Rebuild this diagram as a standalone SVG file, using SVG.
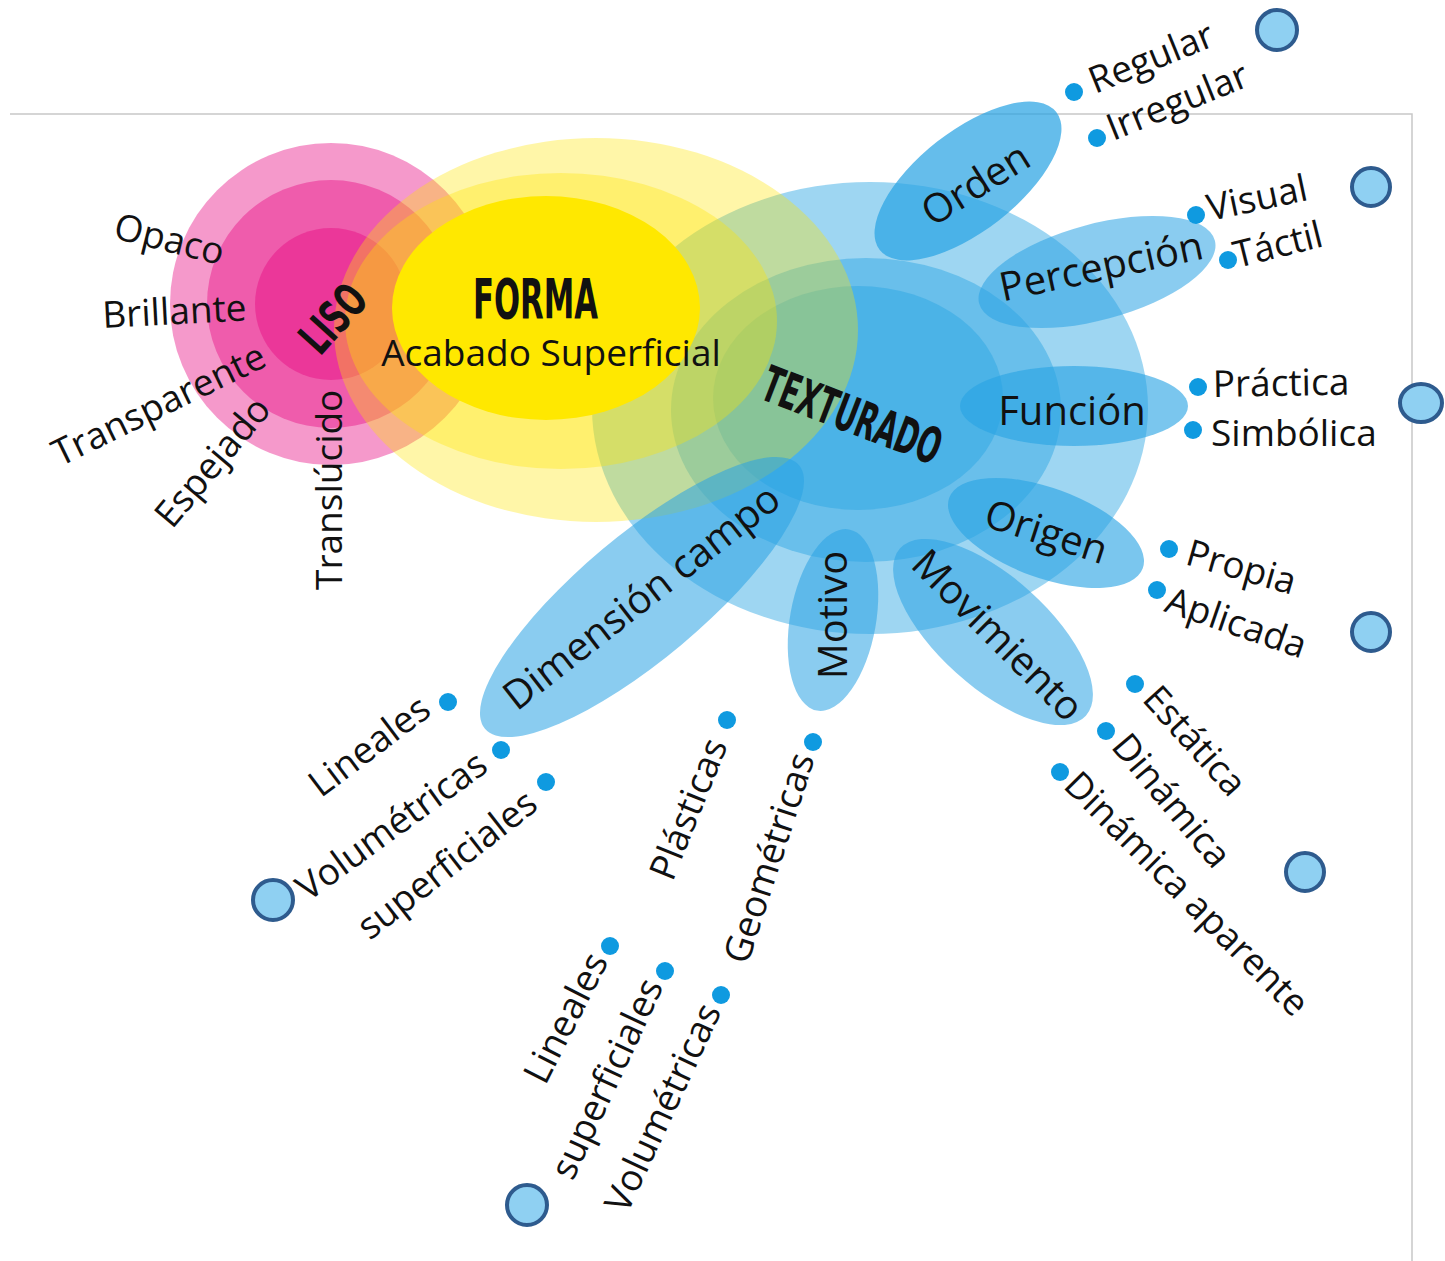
<svg xmlns="http://www.w3.org/2000/svg" width="1445" height="1261" viewBox="0 0 1445 1261">
<style>
.t{font-family:"Open Sans","Noto Sans",sans-serif;fill:#111}
.leaf{font-size:37px}
.cat{font-size:40px;text-anchor:middle}
.end{text-anchor:end}
.hand{font-family:"DejaVu Sans Condensed","DejaVu Sans",sans-serif;font-weight:bold;fill:#111}
.dot{fill:#0f9ae0}
.ring{fill:#8fd0f2;stroke:#2e5b8e;stroke-width:4}
.pk{fill:#e6007e;fill-opacity:.4}
.ye{fill:#ffe600;fill-opacity:.34}
.bl{fill:#29a3e3;fill-opacity:.45}
.pet{fill:#29a3e3;fill-opacity:.55}
.frame{fill:none;stroke:#c8c8c8;stroke-width:1.5}
</style>
<rect width="1445" height="1261" fill="#fff"/>
<path class="frame" d="M10 114H1412V1261"/>

<g id="liso">
<circle class="pk" cx="331" cy="304" r="161"/>
<circle class="pk" cx="331" cy="304" r="124"/>
<circle class="pk" cx="331" cy="304" r="76"/>
</g>
<g id="texturado">
<ellipse class="bl" cx="870" cy="408" rx="278" ry="226"/>
<ellipse class="bl" cx="866" cy="410" rx="195" ry="152"/>
<ellipse class="bl" cx="858" cy="398" rx="145" ry="112"/>
</g>
<g id="forma">
<ellipse class="ye" cx="596" cy="330" rx="262" ry="192"/>
<ellipse class="ye" cx="561" cy="321" rx="216" ry="148"/>
<ellipse fill="#ffe800" cx="546" cy="308" rx="154" ry="112"/>
</g>

<g id="petals">
<ellipse id="p-orden" class="pet" style="fill-opacity:.72" cx="968" cy="181" rx="112" ry="50" transform="rotate(-38 968 181)"/>
<ellipse id="p-percepcion" class="pet" cx="1097" cy="272" rx="122" ry="48" transform="rotate(-15 1097 272)"/>
<ellipse id="p-funcion" class="pet" style="fill-opacity:.62" cx="1074" cy="406" rx="114" ry="40"/>
<ellipse id="p-origen" class="pet" style="fill-opacity:.62" cx="1046" cy="533" rx="103" ry="45" transform="rotate(20 1046 533)"/>
<ellipse id="p-movimiento" class="pet" cx="993" cy="632" rx="125" ry="55" transform="rotate(42 993 632)"/>
<ellipse id="p-motivo" class="pet" cx="833" cy="620" rx="43" ry="92" transform="rotate(10 833 620)"/>
<ellipse id="p-dimension" class="pet" cx="642" cy="597" rx="205" ry="62" transform="rotate(-40 642 597)"/>
</g>

<g id="titles">
<text class="hand" font-size="46" textLength="75" lengthAdjust="spacingAndGlyphs" transform="translate(320 357) rotate(-48)">LISO</text>
<text class="hand" font-size="56" x="473" y="318" textLength="125" lengthAdjust="spacingAndGlyphs">FORMA</text>
<text class="t leaf" x="551" y="366" text-anchor="middle">Acabado Superficial</text>
<text class="hand" font-size="50" textLength="188" lengthAdjust="spacingAndGlyphs" transform="translate(758 398) rotate(21)">TEXTURADO</text>
</g>

<g id="liso-labels" class="t leaf">
<text transform="translate(112 238) rotate(14)">Opaco</text>
<text transform="translate(103 328) rotate(-3)">Brillante</text>
<text transform="translate(60 467) rotate(-26)">Transparente</text>
<text transform="translate(172 530) rotate(-50)">Espejado</text>
<text transform="translate(342 590) rotate(-90)">Translúcido</text>
</g>

<g id="categories" class="t cat">
<text transform="translate(983 196) rotate(-32)">Orden</text>
<text transform="translate(1104 280) rotate(-12)">Percepción</text>
<text x="1072" y="425">Función</text>
<text transform="translate(1042 545) rotate(18)">Origen</text>
<text transform="translate(988 645) rotate(45)">Movimiento</text>
<text transform="translate(847 615) rotate(-90)">Motivo</text>
<text transform="translate(650 608) rotate(-38)">Dimensión campo</text>
</g>

<g id="leaves">
<g id="orden-leaves">
<circle class="dot" cx="1074" cy="92" r="9"/>
<circle class="dot" cx="1097" cy="138" r="9"/>
<text class="t leaf" transform="translate(1095 94) rotate(-22)">Regular</text>
<text class="t leaf" transform="translate(1113 141) rotate(-22)">Irregular</text>
</g>
<g id="percepcion-leaves">
<circle class="dot" cx="1196" cy="215" r="9"/>
<circle class="dot" cx="1228" cy="260" r="9"/>
<text class="t leaf" transform="translate(1210 221) rotate(-12)">Visual</text>
<text class="t leaf" transform="translate(1237 268) rotate(-14)">Táctil</text>
</g>
<g id="funcion-leaves">
<circle class="dot" cx="1198" cy="387" r="9"/>
<circle class="dot" cx="1193" cy="430" r="9"/>
<text class="t leaf" transform="translate(1213 397) rotate(-1)">Práctica</text>
<text class="t leaf" x="1211" y="446">Simbólica</text>
</g>
<g id="origen-leaves">
<circle class="dot" cx="1169" cy="549" r="9"/>
<circle class="dot" cx="1157" cy="590" r="9"/>
<text class="t leaf" transform="translate(1184 564) rotate(16)">Propia</text>
<text class="t leaf" transform="translate(1163 611) rotate(19)">Aplicada</text>
</g>
<g id="movimiento-leaves">
<circle class="dot" cx="1135" cy="684" r="9"/>
<circle class="dot" cx="1106" cy="731" r="9"/>
<circle class="dot" cx="1060" cy="772" r="9"/>
<text class="t leaf" transform="translate(1141 700) rotate(48)">Estática</text>
<text class="t leaf" transform="translate(1110 747) rotate(50)">Dinámica</text>
<text class="t leaf" transform="translate(1062 787) rotate(45)">Dinámica aparente</text>
</g>
<g id="dimension-leaves">
<circle class="dot" cx="448" cy="702" r="9"/>
<circle class="dot" cx="501" cy="750" r="9"/>
<circle class="dot" cx="546" cy="782" r="9"/>
<text class="t leaf end" transform="translate(433 714) rotate(-37)">Lineales</text>
<text class="t leaf end" transform="translate(490 770) rotate(-36)">Volumétricas</text>
<text class="t leaf end" transform="translate(540 808) rotate(-38)">superficiales</text>
</g>
<g id="motivo-leaves">
<circle class="dot" cx="727" cy="720" r="9"/>
<circle class="dot" cx="813" cy="742" r="9"/>
<text class="t leaf end" transform="translate(728 745) rotate(-68)">Plásticas</text>
<text class="t leaf end" transform="translate(815 758) rotate(-72)">Geométricas</text>
</g>
<g id="geometricas-leaves">
<circle class="dot" cx="610" cy="946" r="9"/>
<circle class="dot" cx="665" cy="971" r="9"/>
<circle class="dot" cx="721" cy="995" r="9"/>
<text class="t leaf end" transform="translate(609 961) rotate(-63)">Lineales</text>
<text class="t leaf end" transform="translate(664 986) rotate(-65)">superficiales</text>
<text class="t leaf end" transform="translate(722 1011) rotate(-65)">Volumétricas</text>
</g>
</g>

<g id="markers">
<circle class="ring" cx="1277" cy="30" r="20"/>
<circle class="ring" cx="1371" cy="187" r="19"/>
<ellipse class="ring" cx="1421" cy="403" rx="21" ry="19"/>
<circle class="ring" cx="1371" cy="632" r="19"/>
<circle class="ring" cx="1305" cy="872" r="19"/>
<circle class="ring" cx="273" cy="900" r="20"/>
<circle class="ring" cx="527" cy="1205" r="20"/>
</g>
</svg>
